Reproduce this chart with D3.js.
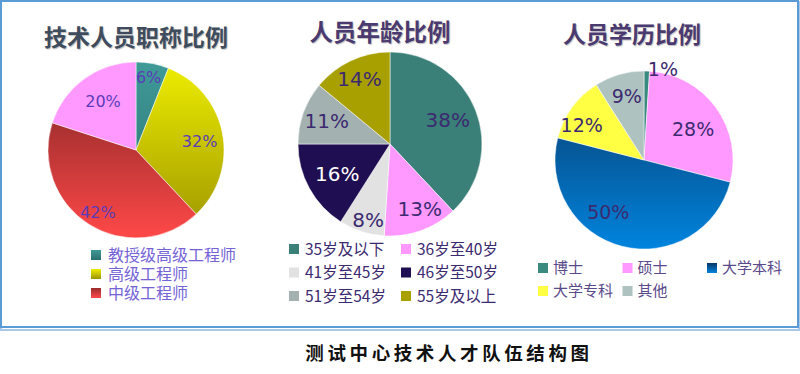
<!DOCTYPE html>
<html>
<head>
<meta charset="utf-8">
<script src="https://cdn.jsdelivr.net/npm/d3@7"></script>
<style>
  body { margin: 0; background: #fff; }
  svg { display: block; }
</style>
</head>
<body>
<svg width="800" height="374"></svg>
<script>
// ---- data ----
var rankNames = ["教授级高级工程师", "高级工程师", "中级工程师", "其他"];
var rankValues = [6, 32, 42, 20];

var ageNames = ["35岁及以下", "36岁至40岁", "41岁至45岁", "46岁至50岁", "51岁至54岁", "55岁及以上"];
var ageValues = [38, 13, 8, 16, 11, 14];

var eduNames = ["博士", "硕士", "大学本科", "大学专科", "其他"];
var eduValues = [1, 28, 50, 12, 9];

var chartTitles = ["技术人员职称比例", "人员年龄比例", "人员学历比例"];
var caption = "测试中心技术人才队伍结构图";

var svg = d3.select("svg"),
    width = +svg.attr("width"),
    height = +svg.attr("height");
var defs = svg.append("defs");

// frame
svg.append("rect").attr("x", 1).attr("y", 2).attr("width", 798).attr("height", 328)
  .attr("fill", "none").attr("stroke", "#a9c8ea").attr("stroke-width", 2);
svg.append("rect").attr("x", 1).attr("y", 1).attr("width", 797).attr("height", 326)
  .attr("fill", "#fff").attr("stroke", "#5b9bd5").attr("stroke-width", 2);

// vertical gradient, top -> bottom, over the box of the shape itself
function grad(id, c0, c1) {
  var g = defs.append("linearGradient").attr("id", id)
    .attr("x1", 0).attr("x2", 0).attr("y1", 0).attr("y2", 1);
  g.append("stop").attr("offset", "0%").attr("stop-color", c0);
  g.append("stop").attr("offset", "100%").attr("stop-color", c1);
  return "url(#" + id + ")";
}
// same, but spread over the whole pie (local coords, -r..r)
function pieGrad(id, c0, c1, r) {
  var g = defs.append("linearGradient").attr("id", id)
    .attr("gradientUnits", "userSpaceOnUse")
    .attr("x1", 0).attr("x2", 0).attr("y1", -r).attr("y2", r);
  g.append("stop").attr("offset", "0%").attr("stop-color", c0);
  g.append("stop").attr("offset", "100%").attr("stop-color", c1);
  return "url(#" + id + ")";
}

function drawPie(cfg) {
  var g = svg.append("g").attr("transform", "translate(" + cfg.cx + "," + cfg.cy + ")");
  var pie = d3.pie().sort(null).value(function(d) { return d; });
  var arc = d3.arc().innerRadius(0).outerRadius(cfg.r);
  var arcs = pie(cfg.values);

  g.selectAll("path.slice")
    .data(arcs)
    .enter().append("path")
    .attr("class", "slice")
    .attr("d", arc)
    .attr("fill", function(d, i) { return cfg.fills[i]; })
    .attr("stroke", "#fff")
    .attr("stroke-width", 0.5);

  g.selectAll("text.lbl")
    .data(arcs)
    .enter().append("text")
    .attr("class", "lbl")
    .attr("transform", function(d, i) {
      var a = (d.startAngle + d.endAngle) / 2 + (cfg.nudge[i] || 0) * Math.PI / 180;
      var rr = cfg.r * cfg.labelR[i];
      return "translate(" + (rr * Math.sin(a)) + "," + (-rr * Math.cos(a)) + ")";
    })
    .attr("text-anchor", "middle")
    .attr("dy", "0.36em")
    .attr("font-family", "'DejaVu Sans', Verdana, sans-serif")
    .attr("font-size", cfg.labelSize)
    .attr("fill", function(d, i) { return cfg.labelColors[i] || cfg.labelColor; })
    .text(function(d) { return d.data + "%"; });

  svg.append("text")
    .attr("x", cfg.cx + cfg.titleDx).attr("y", cfg.titleY)
    .attr("text-anchor", "middle")
    .attr("font-family", "'Noto Sans CJK SC', sans-serif")
    .attr("font-weight", "bold")
    .attr("font-size", cfg.titleSize)
    .attr("fill", cfg.titleColor)
    .style("text-shadow", "1px 1px 1px rgba(0,0,0,0.25)")
    .text(cfg.title);

  // legend
  var lg = svg.append("g");
  var items = lg.selectAll("g.item")
    .data(cfg.legendNames)
    .enter().append("g")
    .attr("class", "item")
    .attr("transform", function(d, i) {
      var col = i % cfg.legendCols, row = Math.floor(i / cfg.legendCols);
      return "translate(" + (cfg.legendX + col * cfg.legendColW) + "," + (cfg.legendY + row * cfg.legendRowH) + ")";
    });
  items.append("rect")
    .attr("x", 0).attr("y", -5).attr("width", 10).attr("height", 10)
    .attr("fill", function(d, i) { return cfg.legendFills[i]; });
  items.append("text")
    .attr("x", cfg.legendTextDx).attr("dy", "0.36em")
    .attr("font-family", cfg.legendFont)
    .attr("font-size", cfg.legendSize)
    .attr("fill", cfg.legendColor)
    .text(function(d) { return d; });
}

// chart 1: titles
drawPie({
  cx: 136, cy: 150, r: 88,
  values: rankValues,
  fills: [
    pieGrad("r0", "#3f9a98", "#2a6e6e", 88),
    pieGrad("r1", "#eeee00", "#9c9400", 88),
    pieGrad("r2", "#7a2424", "#ff4848", 88),
    "#ff99ff"
  ],
  labelR: [0.84, 0.73, 0.83, 0.67],
  nudge: [-1, 3, -1, 2],
  labelSize: 16, labelColor: "#5a3cb8", labelColors: [],
  title: chartTitles[0], titleY: 46, titleDx: 0, titleSize: 23, titleColor: "#3e4c5e",
  legendNames: rankNames.slice(0, 3),
  legendFills: [
    grad("l0", "#3f9a98", "#2a6e6e"),
    grad("l1", "#eeee00", "#9c9400"),
    grad("l2", "#9a2c2c", "#ff4848")
  ],
  legendX: 91, legendY: 255, legendCols: 1, legendColW: 0, legendRowH: 19,
  legendTextDx: 17, legendSize: 16, legendColor: "#7563d6",
  legendFont: "'Noto Sans CJK SC', sans-serif"
});

// chart 2: age
drawPie({
  cx: 390, cy: 144, r: 92,
  values: ageValues,
  fills: ["#3a7f78", "#ff99ff", "#e2e2e2", "#1f0f52", "#a3b2b0", "#a8a000"],
  labelR: [0.68, 0.77, 0.86, 0.66, 0.73, 0.78],
  nudge: [-1, -5, -2, -1, 0, 0],
  labelSize: 20, labelColor: "#3c2a70", labelColors: [null, null, null, "#fff"],
  title: chartTitles[1], titleY: 41, titleDx: -10, titleSize: 23.5, titleColor: "#4a3a70",
  legendNames: ageNames,
  legendFills: ["#3a7f78", "#ff99ff", "#e2e2e2", "#1f0f52", "#a3b2b0", "#a8a000"],
  legendX: 289, legendY: 249, legendCols: 2, legendColW: 112, legendRowH: 23.5,
  legendTextDx: 16, legendSize: 15.5, legendColor: "#3c2a70",
  legendFont: "'Noto Sans CJK SC', sans-serif"
});

// chart 3: education
drawPie({
  cx: 644, cy: 160, r: 89,
  values: eduValues,
  fills: [
    "#3a8a80", "#ff99ff",
    pieGrad("b2", "#0a3866", "#0084de", 89),
    "#ffff44", "#aec2c0"
  ],
  labelR: [1.04, 0.65, 0.71, 0.8, 0.74],
  nudge: [10, 4, 20, -7, 1],
  labelSize: 19, labelColor: "#3c2a70", labelColors: [],
  title: chartTitles[2], titleY: 43, titleDx: -12, titleSize: 23, titleColor: "#4a3a70",
  legendNames: eduNames,
  legendFills: [
    "#3a8a80", "#ff99ff",
    grad("lb2", "#0a3866", "#0084de"),
    "#ffff44", "#aec2c0"
  ],
  legendX: 538, legendY: 268, legendCols: 3, legendColW: 84.5, legendRowH: 23,
  legendTextDx: 15, legendSize: 15, legendColor: "#5a4a8a",
  legendFont: "'Noto Sans CJK SC', sans-serif"
});

// caption
svg.append("text")
  .attr("x", 449).attr("y", 360)
  .attr("text-anchor", "middle")
  .attr("font-family", "'Noto Sans CJK SC', sans-serif")
  .attr("font-weight", "bold")
  .attr("font-size", 18.5)
  .attr("letter-spacing", 3.6)
  .attr("fill", "#111")
  .text(caption);
</script>
</body>
</html>
